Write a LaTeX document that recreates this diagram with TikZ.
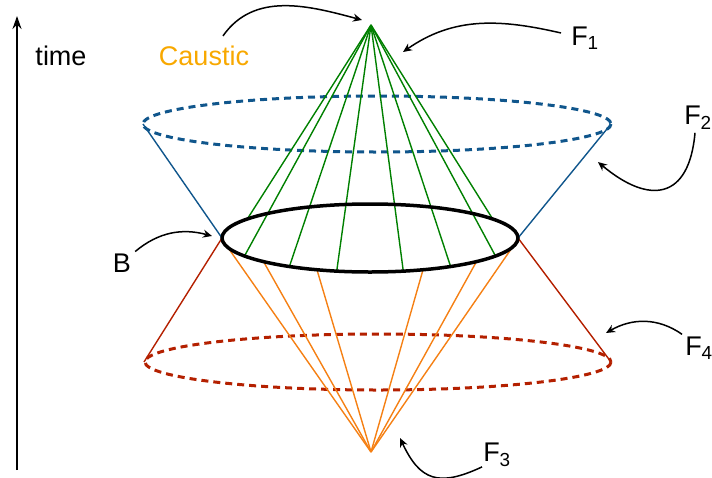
\documentclass[tikz,border=0pt]{standalone}
\usepackage{fontspec}
\setmainfont{Liberation Sans}
\usepackage{tikz}
\usetikzlibrary{arrows.meta, calc}
\definecolor{ray}{RGB}{0,128,0}
\definecolor{rim}{RGB}{16,86,140}
\definecolor{rust}{RGB}{180,32,0}
\definecolor{amber}{RGB}{245,128,20}
\definecolor{gold}{RGB}{248,168,0}

\begin{document}
\begin{tikzpicture}[
  x=1pt, y=-1pt,
  lbl/.style={font=\fontsize{27}{30}\selectfont, inner sep=0pt},
  note/.style={line width=1.5pt, -{Stealth[length=9pt, width=8pt]}},
  wave/.style={line width=3pt, dash pattern=on 7pt off 5pt},
  side/.style={line width=1.4pt},
  >={Stealth[length=2mm]}
]
\useasboundingbox (0,0) rectangle (712,477);

\coordinate (tip) at (371,25);
\coordinate (foot) at (371,452);
\coordinate (bc) at (370,238);
\coordinate (uc) at (377,124);
\coordinate (lc) at (378,362);
\coordinate (bw) at (222,238);
\coordinate (be) at (518,238);
\coordinate (uw) at (143,124);
\coordinate (ue) at (611,124);
\coordinate (lw) at (144,362);
\coordinate (le) at (611,362);

\draw[wave, rim] (uc) ellipse [x radius=234, y radius=28];
\draw[wave, rust] (lc) ellipse [x radius=233, y radius=28];
\draw[side, rim] (uw) -- (bw);
\draw[side, rim] (ue) -- (be);
\draw[side, rust] (bw) -- (lw);
\draw[side, rust] (be) -- (le);
\foreach \a in {214,148,123,103,77,57,32,326}
  \draw[side, ray] (tip) -- ($(bc)+(\a:148 and 34)$);
\foreach \a in {178,136,111,69,44,2}
  \draw[side, amber] ($(bc)+(\a:148 and 34)$) -- (foot);
\draw[line width=3.5pt] (bc) ellipse [x radius=148, y radius=34];

\coordinate (t0) at (17,470);
\coordinate (t1) at (17,16);
\draw[line width=2pt, -{Stealth[length=13pt, width=9pt]}] (t0) -- (t1);
\node[lbl] (time) at (61,56) {time};
\node[lbl, text=gold] (caustic) at (204,56) {Caustic};
\node[lbl] (f1) at (585,38) {F\textsubscript{1}};
\node[lbl] (f2) at (698,118) {F\textsubscript{2}};
\node[lbl] (b) at (122,263) {B};
\node[lbl] (f4) at (699,348) {F\textsubscript{4}};
\node[lbl] (f3) at (497,455) {F\textsubscript{3}};

\coordinate (aimc) at (362,20);
\coordinate (aim1) at (403,52);
\coordinate (aim2) at (598,162);
\coordinate (aimb) at (212,236);
\coordinate (aim4) at (606,333);
\coordinate (aim3) at (400,438);
\draw[note] ([shift={(19,-10)}]caustic.north) to[out=55, in=165] (aimc);
\draw[note] ([shift={(-10,-5)}]f1.west) to[out=167, in=35] (aim1);
\draw[note] ([shift={(-3,3)}]f2.south) to[out=-95, in=-40, looseness=1.7] (aim2);
\draw[note] ([shift={(4,-2)}]b.north east) to[out=40, in=165] (aimb);
\draw[note] ([shift={(-3,-2)}]f4.north west) to[out=145, in=30] (aim4);
\draw[note] ([shift={(-1,0)}]f3.south west) to[out=-155, in=-65, looseness=1.4] (aim3);
\end{tikzpicture}
\end{document}
